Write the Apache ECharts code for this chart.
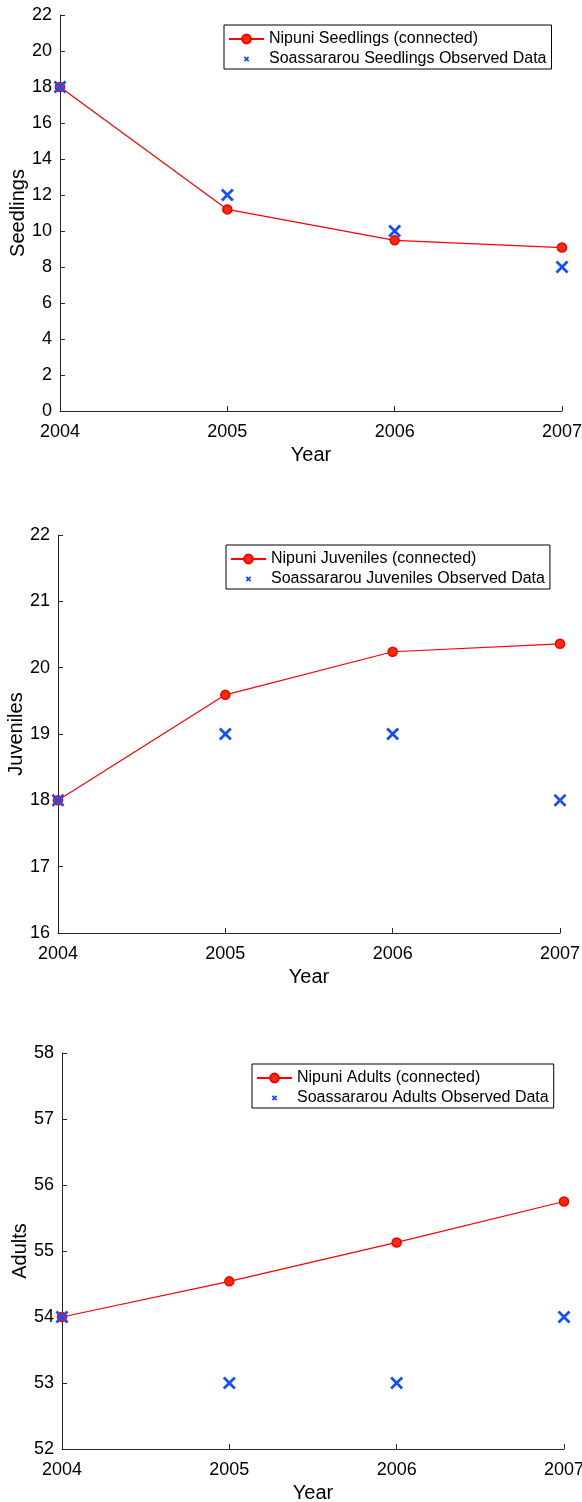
<!DOCTYPE html>
<html>
<head>
<meta charset="utf-8">
<script src="https://cdn.jsdelivr.net/npm/echarts@6/dist/echarts.min.js"></script>
<style>
  html, body { margin: 0; padding: 0; background: #fff; }
  #chart { width: 582px; height: 1502px; }
</style>
</head>
<body>
<div id="chart"></div>
<script>
// Survey years (x-axis ticks)
const years = [2004, 2005, 2006, 2007];

// Seedlings
const seedlingsModel = [18, 11.2, 9.48, 9.08];
const seedlingsObserved = [18, 12, 10, 8];
const seedlingsTicks = [0, 2, 4, 6, 8, 10, 12, 14, 16, 18, 20, 22];

// Juveniles
const juvenilesModel = [18, 19.59, 20.24, 20.36];
const juvenilesObserved = [18, 19, 19, 18];
const juvenilesTicks = [16, 17, 18, 19, 20, 21, 22];

// Adults
const adultsModel = [54, 54.54, 55.13, 55.75];
const adultsObserved = [54, 53, 53, 54];
const adultsTicks = [52, 53, 54, 55, 56, 57, 58];

const FONT = "'Liberation Sans', Arial, Helvetica, sans-serif";
const RED = '#ff0000';
const BLUE = '#1450ff';
const AXIS = '#262626';

// Filled "x" glyph for observed points
function crossPath(box, lo, hi, t) {
  const c = (lo + hi) / 2;
  const pts = [
    [lo, lo + t], [lo + t, lo], [c, c - t], [hi - t, lo], [hi, lo + t], [c + t, c],
    [hi, hi - t], [hi - t, hi], [c, c + t], [lo + t, hi], [lo, hi - t], [c - t, c]
  ];
  let d = 'path://M0,0M' + box + ',' + box;
  d += 'M' + pts.map(p => p[0].toFixed(2) + ',' + p[1].toFixed(2)).join('L') + 'Z';
  return d;
}
const markerX = crossPath(10, 0, 10, 1.5);
const legendX = crossPath(12, 3, 9, 1.4);

const panels = [
  { name: 'Seedlings', model: seedlingsModel, observed: seedlingsObserved, ticks: seedlingsTicks,
    grid: { left: 60, top: 15, width: 502, height: 396 }, legend: { left: 224, top: 25 }, nameGap: 32 },
  { name: 'Juveniles', model: juvenilesModel, observed: juvenilesObserved, ticks: juvenilesTicks,
    grid: { left: 58, top: 535, width: 502, height: 398 }, legend: { left: 226, top: 545 }, nameGap: 32 },
  { name: 'Adults', model: adultsModel, observed: adultsObserved, ticks: adultsTicks,
    grid: { left: 62, top: 1053, width: 502, height: 396 }, legend: { left: 252, top: 1064 }, nameGap: 32 }
];

const grid = [], xAxis = [], yAxis = [], series = [], legend = [];

panels.forEach((p, i) => {
  grid.push(Object.assign({ containLabel: false, outerBoundsMode: 'none' }, p.grid));
  xAxis.push({
    gridIndex: i, type: 'value',
    min: years[0], max: years[years.length - 1], interval: 1,
    name: 'Year', nameLocation: 'middle', nameGap: 34, nameMoveOverlap: false,
    nameTextStyle: { fontFamily: FONT, fontSize: 20, color: '#000' },
    axisLine: { onZero: false, lineStyle: { color: AXIS, width: 1 } },
    axisTick: { inside: true, length: 5, lineStyle: { color: AXIS } },
    axisLabel: { fontFamily: FONT, fontSize: 18, color: '#000', margin: 12, formatter: v => String(v) },
    splitLine: { show: false }
  });
  const step = p.ticks[1] - p.ticks[0];
  yAxis.push({
    gridIndex: i, type: 'value',
    min: p.ticks[0], max: p.ticks[p.ticks.length - 1], interval: step,
    name: p.name, nameLocation: 'middle', nameGap: p.nameGap, nameMoveOverlap: false,
    nameTextStyle: { fontFamily: FONT, fontSize: 20, color: '#000' },
    axisLine: { show: true, onZero: false, lineStyle: { color: AXIS, width: 1 } },
    axisTick: { show: true, inside: true, length: 5, lineStyle: { color: AXIS } },
    axisLabel: { fontFamily: FONT, fontSize: 18, color: '#000', margin: 8, formatter: v => String(v) },
    splitLine: { show: false }
  });
  const modelName = 'Nipuni ' + p.name + ' (connected)';
  const obsName = 'Soassararou ' + p.name + ' Observed Data';
  series.push({
    name: modelName, type: 'line', xAxisIndex: i, yAxisIndex: i, z: 2,
    data: years.map((y, k) => [y, p.model[k]]),
    symbol: 'circle', symbolSize: 9, showSymbol: true,
    lineStyle: { color: RED, width: 1.2 },
    itemStyle: { color: '#ff2a0a', borderColor: '#f00000', borderWidth: 1.5 },
    emphasis: { disabled: true }
  });
  series.push({
    name: obsName, type: 'scatter', xAxisIndex: i, yAxisIndex: i, z: 5,
    data: years.map((y, k) => [y, p.observed[k]]),
    symbol: markerX, symbolSize: 13,
    itemStyle: { color: BLUE, opacity: 1 },
    emphasis: { disabled: true }
  });
  legend.push({
    left: p.legend.left, top: p.legend.top, orient: 'vertical', align: 'left',
    data: [{ name: modelName }, { name: obsName, icon: legendX }],
    backgroundColor: '#fff', borderColor: '#000', borderWidth: 1,
    padding: [6, 5, 2, 4], itemGap: 4, itemWidth: 35, itemHeight: 11,
    textStyle: { fontFamily: FONT, fontSize: 16, color: '#000' },
    selectedMode: false
  });
});

const chart = echarts.init(document.getElementById('chart'), null, { renderer: 'canvas' });
chart.setOption({
  animation: false,
  backgroundColor: '#fff',
  textStyle: { fontFamily: FONT },
  grid, xAxis, yAxis, series, legend
});
</script>
</body>
</html>
